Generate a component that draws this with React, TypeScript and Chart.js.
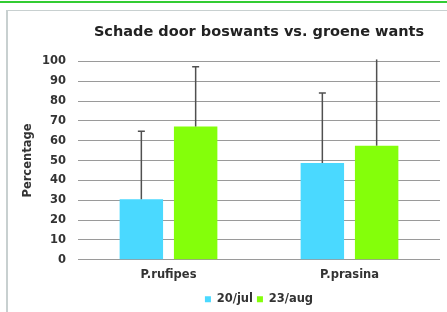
import React, { useEffect, useRef } from "react";
import { Chart, registerables } from "chart.js";

Chart.register(...registerables);

const categories = ["P.rufipes", "P.prasina"];
const seriesLabels = ["20/jul", "23/aug"];
const julValues = [30.5, 48.8];
const augValues = [67.2, 57.5];
const julErrorTop = [64.8, 84.1];
const augErrorTop = [97.3, 101];
const yTicksMax = 100;
const yStep = 10;

const FONT = "'DejaVu Sans', Verdana, sans-serif";

const errorBarPlugin = {
  id: "errorBars",
  afterDatasetsDraw(chart: any) {
    const { ctx, chartArea } = chart;
    const yScale = chart.scales.y;
    chart.data.datasets.forEach((ds: any, di: number) => {
      const meta = chart.getDatasetMeta(di);
      const tops: number[] = ds.errorTop || [];
      meta.data.forEach((bar: any, i: number) => {
        const v = tops[i];
        if (v == null) return;
        let yTop = yScale.getPixelForValue(v);
        const capped = v <= yScale.max;
        if (!capped) yTop = Math.max(yTop, chartArea.top - 2);
        ctx.save();
        ctx.strokeStyle = "#505050";
        ctx.lineWidth = 1.5;
        ctx.beginPath();
        ctx.moveTo(bar.x, bar.y);
        ctx.lineTo(bar.x, yTop);
        if (capped) {
          ctx.moveTo(bar.x - 3.5, yTop);
          ctx.lineTo(bar.x + 3.5, yTop);
        }
        ctx.stroke();
        ctx.restore();
      });
    });
  },
};

export default function App() {
  const ref = useRef<HTMLCanvasElement>(null);
  useEffect(() => {
    document.body.style.margin = "0";
    const chart = new Chart(ref.current!, {
      type: "bar",
      data: {
        labels: categories,
        datasets: [
          {
            label: seriesLabels[0],
            data: julValues,
            backgroundColor: "#4ad9ff",
            categoryPercentage: 0.6,
            barPercentage: 0.8,
            errorTop: julErrorTop,
          } as any,
          {
            label: seriesLabels[1],
            data: augValues,
            backgroundColor: "#84ff0a",
            categoryPercentage: 0.6,
            barPercentage: 0.8,
            errorTop: augErrorTop,
          } as any,
        ],
      },
      options: {
        animation: false,
        responsive: false,
        maintainAspectRatio: false,
        layout: { padding: { top: 24, left: 21, right: 7, bottom: -3 } },
        plugins: {
          tooltip: { enabled: false },
          title: {
            display: true,
            text: "Schade door boswants vs. groene wants",
            fullSize: false,
            color: "#222",
            font: { family: FONT, size: 14.5, weight: "bold" },
            padding: { top: 0, bottom: 20 },
          },
          legend: {
            position: "bottom",
            fullSize: false,
            labels: {
              color: "#333",
              boxWidth: 6,
              boxHeight: 6,
              padding: 4,
              font: { family: FONT, size: 11.5, weight: "bold" },
            },
          },
        },
        scales: {
          x: {
            grid: { display: false, drawTicks: false },
            border: { display: false },
            ticks: {
              color: "#333",
              padding: 8,
              font: { family: FONT, size: 11.5, weight: "bold" },
            },
          },
          y: {
            min: 0,
            max: yTicksMax,
            afterFit: (scale: any) => {
              scale.width = 57;
            },
            ticks: {
              stepSize: yStep,
              color: "#333",
              padding: 12,
              font: { family: FONT, size: 11.5, weight: "bold" },
            },
            grid: { color: "#9a9a9a", lineWidth: 1, drawTicks: false },
            border: { display: false },
            title: {
              display: true,
              text: "Percentage",
              color: "#333",
              padding: { top: 0, bottom: 6 },
              font: { family: FONT, size: 11.5, weight: "bold" },
            },
          },
        },
      },
      plugins: [errorBarPlugin],
    });
    return () => chart.destroy();
  }, []);

  return (
    <div style={{ position: "absolute", left: 0, top: 0, width: 447, height: 312, background: "#fff", overflow: "hidden" }}>
      <div style={{ position: "absolute", left: 0, top: 1, width: 447, height: 2, background: "#33cc33" }} />
      <div
        style={{
          position: "absolute",
          left: 6,
          top: 10,
          width: 441,
          height: 302,
          borderLeft: "2px solid #c8d0d0",
          borderTop: "1px solid #c8d0d0",
          boxSizing: "border-box",
        }}
      />
      <canvas ref={ref} width={447} height={312} style={{ position: "absolute", left: 0, top: 0, width: 447, height: 312 }} />
    </div>
  );
}
